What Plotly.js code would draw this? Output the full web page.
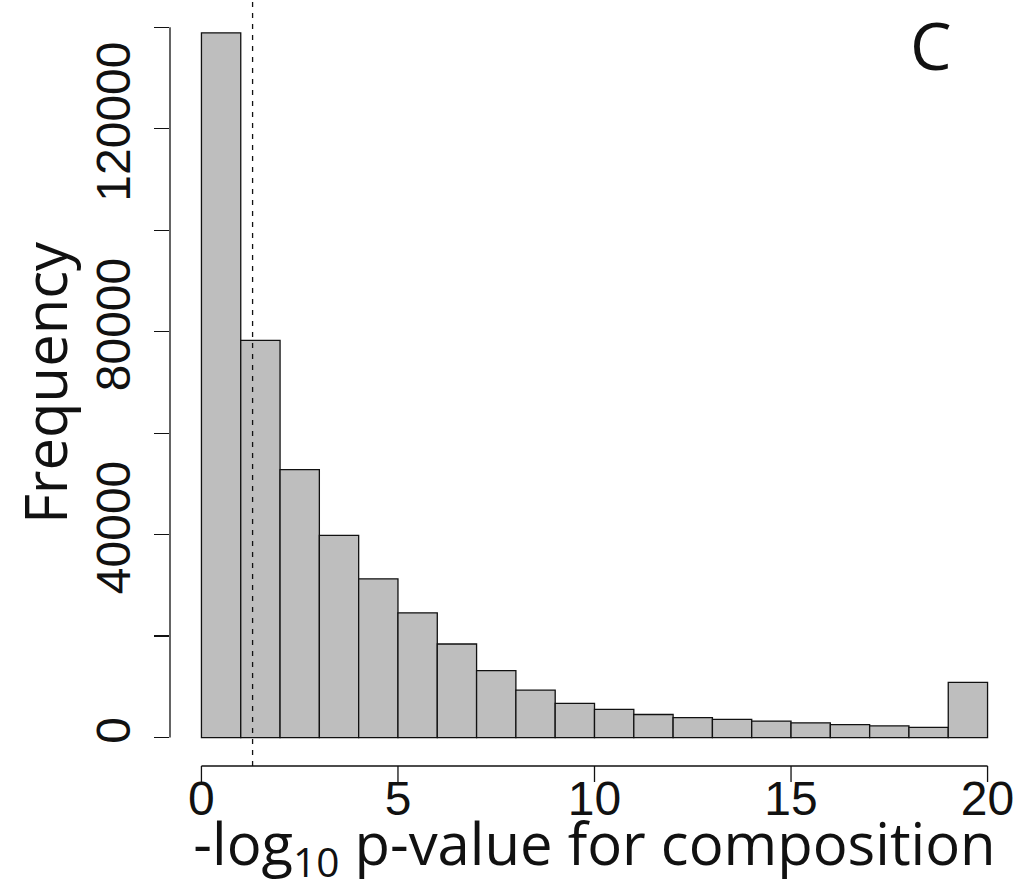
<!DOCTYPE html>
<html>
<head>
<meta charset="utf-8">
<script src="https://cdn.plot.ly/plotly-3.0.1.min.js"></script>
<style>
  html, body { margin: 0; padding: 0; background: #ffffff; }
  #chart { width: 1026px; height: 889px; }
</style>
</head>
<body>
<div id="chart"></div>
<script>
// Histogram of -log10 p-values for composition (unit-width bins, last bin collects 19+)
const binStarts = [0, 1, 2, 3, 4, 5, 6, 7, 8, 9, 10, 11, 12, 13, 14, 15, 16, 17, 18, 19];
const counts = [138900, 78300, 52800, 39850, 31300, 24600, 18450, 13200, 9350, 6750,
                5550, 4550, 3950, 3600, 3250, 2900, 2550, 2300, 2000, 10900];
const binWidth = 1;

// significance threshold p = 0.05
const threshold = -Math.log10(0.05);

const xTickVals = [0, 5, 10, 15, 20];
const xTickText = ['0', '5', '10', '15', '20'];
const yTickVals = [0, 20000, 40000, 60000, 80000, 100000, 120000, 140000];
const yTickText = ['0', ' ', '40000', ' ', '80000', ' ', '120000', ' '];

const panelLabel = 'C';

const tickFont = { family: 'Liberation Sans, Arial, sans-serif', size: 48, color: '#111111' };
const titleFont = { family: 'Open Sans, Noto Sans, sans-serif', size: 58, color: '#111111' };
const ink = { color: '#111111', width: 1.3 };

const trace = {
  type: 'bar',
  x: binStarts,
  y: counts,
  width: binWidth,
  offset: 0,
  marker: { color: '#bebebe', line: ink },
  hoverinfo: 'x+y'
};

const xMin = xTickVals[0], xMax = xTickVals[xTickVals.length - 1];
const yMin = yTickVals[0], yMax = yTickVals[yTickVals.length - 1];

// x-axis line plus downward tick marks, hung below the plot area
const xAxisShapes = [
  { type: 'line', xref: 'x', yref: 'paper', x0: xMin, x1: xMax, y0: 0, y1: 0, line: ink }
].concat(xTickVals.map(v => ({
  type: 'line', xref: 'x', yref: 'paper', ysizemode: 'pixel', yanchor: 0,
  x0: v, x1: v, y0: 0, y1: -16, line: ink
})));

const layout = {
  width: 1026,
  height: 889,
  margin: { l: 169.5, r: 6.5, t: 0, b: 122.6 },
  paper_bgcolor: '#ffffff',
  plot_bgcolor: '#ffffff',
  showlegend: false,
  bargap: 0,
  xaxis: {
    range: [-0.8, 20.8],
    tickvals: xTickVals,
    ticktext: xTickText,
    ticks: '',
    showgrid: false,
    zeroline: false,
    showline: false,
    tickfont: tickFont,
    title: { text: '-log<sub>10</sub> p-value for composition', font: titleFont, standoff: 14 }
  },
  yaxis: {
    range: [-5600, 145378],
    tickvals: yTickVals,
    ticktext: yTickText,
    tickangle: -90,
    ticks: 'outside',
    ticklen: 15,
    tickwidth: 1.3,
    tickcolor: '#111111',
    ticklabelstandoff: 5,
    showgrid: false,
    zeroline: false,
    showline: false,
    tickfont: tickFont,
    title: { text: 'Frequency', font: titleFont, standoff: 0 }
  },
  shapes: xAxisShapes.concat([
    // y axis line spanning the tick range
    { type: 'line', xref: 'paper', yref: 'y', x0: 0, x1: 0, y0: yMin, y1: yMax, line: ink },
    // dashed threshold line
    { type: 'line', xref: 'x', yref: 'paper', x0: threshold, x1: threshold, y0: 0, y1: 1,
      line: { color: '#111111', width: 1.3, dash: '5px,6px' } }
  ]),
  annotations: [
    { text: panelLabel, xref: 'paper', yref: 'paper', x: 0.896, y: 0.9426,
      xanchor: 'center', yanchor: 'middle', showarrow: false,
      font: { family: 'Open Sans, Noto Sans, sans-serif', size: 66, color: '#111111' } }
  ]
};

Plotly.newPlot('chart', [trace], layout, { displayModeBar: false, staticPlot: true });
</script>
</body>
</html>
